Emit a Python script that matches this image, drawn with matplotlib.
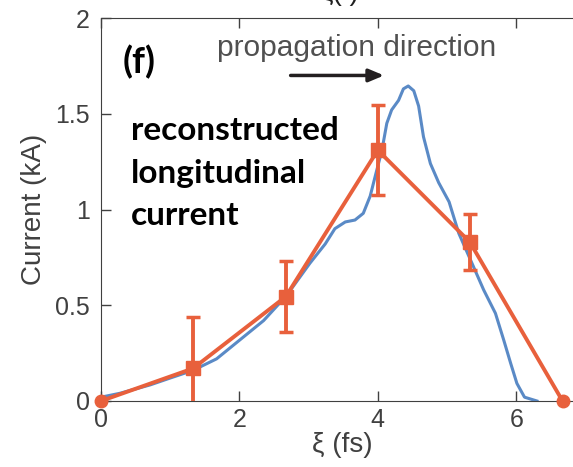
import numpy as np
import matplotlib.pyplot as plt

# simulated current profile (blue)
sim_xi = [0.0, 0.27, 0.71, 1.0, 1.33, 1.67, 2.01, 2.35, 2.68, 3.02, 3.24, 3.38,
          3.53, 3.67, 3.79, 3.89, 3.96, 4.06, 4.13, 4.20, 4.30, 4.37, 4.44, 4.52,
          4.59, 4.66, 4.76, 4.88, 5.03, 5.17, 5.36, 5.53, 5.70, 5.82, 5.92, 6.01,
          6.12, 6.30]
sim_current = [0.02, 0.04, 0.084, 0.12, 0.16, 0.22, 0.32, 0.42, 0.55, 0.72, 0.82, 0.90,
               0.935, 0.945, 0.98, 1.07, 1.17, 1.31, 1.45, 1.52, 1.57, 1.63, 1.645, 1.62,
               1.54, 1.38, 1.24, 1.14, 1.04, 0.876, 0.72, 0.58, 0.458, 0.318, 0.197, 0.092,
               0.02, 0.0]

# reconstructed points (orange) with error bars
rec_xi = [0.0, 1.33, 2.67, 4.0, 5.33, 6.67]
rec_current = [0.0, 0.17, 0.545, 1.31, 0.83, 0.0]
rec_err = [0.0, 0.27, 0.185, 0.235, 0.147, 0.0]

xticks = [0, 2, 4, 6]
yticks = [0, 0.5, 1, 1.5, 2]
ytick_labels = ["0", "0.5", "1", "1.5", "2"]

orange = "#E8603C"
blue = "#5A8AC6"
gray = "#404040"

plt.rcParams["font.family"] = ["Liberation Sans", "DejaVu Sans"]

fig = plt.figure(figsize=(5.73, 4.67), dpi=100)
x0_px, px_per_unit = 101, 69.2
ax = fig.add_axes([x0_px / 573, 1 - 401 / 467, 1 - x0_px / 573 + 0.02, (401 - 18) / 467])

ax.plot(sim_xi, sim_current, color=blue, lw=2.2, zorder=2, solid_joinstyle="round")
ax.errorbar(rec_xi[1:-1], rec_current[1:-1], yerr=rec_err[1:-1], fmt="none",
            ecolor=orange, elinewidth=2.8, capsize=5, capthick=2.5, zorder=3)
ax.plot(rec_xi, rec_current, color=orange, lw=2.8, zorder=4)
ax.plot(rec_xi[1:-1], rec_current[1:-1], "s", color=orange, ms=9.5, zorder=5)
ax.plot([rec_xi[0], rec_xi[-1]], [rec_current[0], rec_current[-1]], "o",
        color=orange, ms=9, zorder=5, clip_on=False)

xmax = (573 - x0_px) / px_per_unit + 0.02 * 573 / px_per_unit
ax.set_xlim(0, xmax)
ax.set_ylim(0, 2)
ax.set_xticks(xticks)
ax.set_yticks(yticks)
ax.set_yticklabels(ytick_labels)
ax.tick_params(direction="in", length=7, width=1, colors=gray, labelsize=18,
               top=True)
ax.tick_params(axis="y", pad=8)
ax.tick_params(axis="x", pad=5)
for side in ["left", "bottom", "top"]:
    ax.spines[side].set_color(gray)
ax.spines["right"].set_visible(False)

ax.set_xlabel("ξ (fs)", fontsize=20, color=gray, labelpad=0)
ax.set_ylabel("Current (kA)", fontsize=20, color=gray, labelpad=6)

ax.text(3.69, 1.845, "propagation direction", fontsize=21.5, color="#505050",
        ha="center", va="center")
ax.annotate("", xy=(4.13, 1.70), xytext=(2.70, 1.70),
            arrowprops=dict(arrowstyle="-|>,head_length=0.9,head_width=0.38",
                            color="#231F20", lw=2.5))

ax.text(0.045, 0.885, "(f)", transform=ax.transAxes, fontsize=26,
        fontweight="bold", family=["Lato", "DejaVu Sans"], va="center")
ax.text(0.062, 0.595, "reconstructed\nlongitudinal\ncurrent", transform=ax.transAxes,
        fontsize=24, fontweight="bold", family=["Lato", "DejaVu Sans"],
        va="center", linespacing=1.55)

# header text running off the top edge
fig.text(340 / 573, 1.0, "ξ(t)", fontsize=20, color="#202020",
         ha="center", va="baseline")

fig.savefig("out.png", dpi=100)
